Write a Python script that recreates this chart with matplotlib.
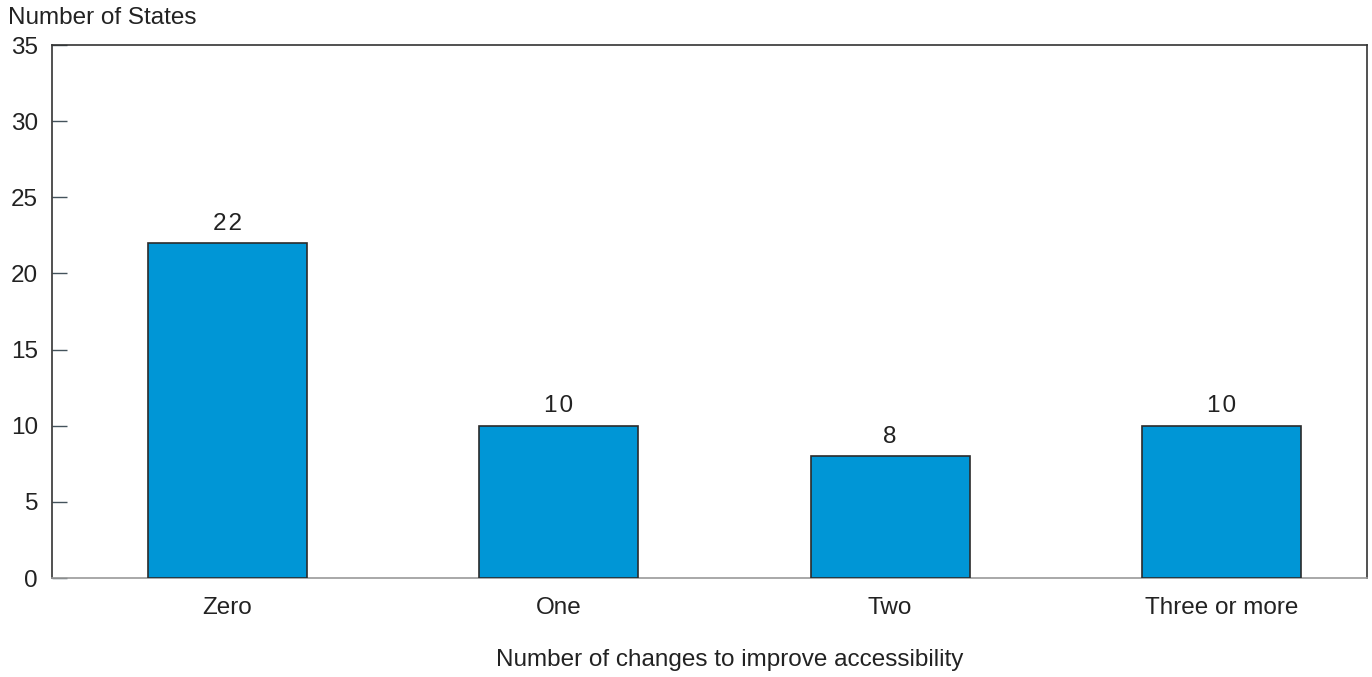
import matplotlib.pyplot as plt

plt.rcParams['font.family'] = ['Liberation Sans', 'DejaVu Sans']

categories = ["Zero", "One", "Two", "Three or more"]
states = [22, 10, 8, 10]
yticks = [0, 5, 10, 15, 20, 25, 30, 35]

fs = 17.5

fig = plt.figure(figsize=(13.72, 6.77), dpi=100)
ax = fig.add_axes([0.0379, 0.1462, 0.9585, 0.7873])

x = range(len(categories))
bars = ax.bar(x, states, width=0.48, color="#0096d6", edgecolor="#2b2b2b", linewidth=1.2, zorder=3)

# value labels above each bar, slightly spread out
for xi, v in zip(x, states):
    ax.text(xi, v + 0.55, "\u200a".join(str(v)), ha="center", va="bottom", fontsize=fs, color="#222222")

ax.set_xlim(-0.53, 3.44)
ax.set_ylim(0, 35)
ax.set_yticks(yticks)
ax.set_xticks(list(x))
ax.set_xticklabels(categories)

ax.tick_params(axis="y", direction="in", length=11, width=1, color="#44535c",
               labelsize=fs, pad=10, labelcolor="#222222")
ax.tick_params(axis="x", length=0, labelsize=fs, pad=14, labelcolor="#222222")

for side in ["left", "top", "right"]:
    ax.spines[side].set_color("#333333")
    ax.spines[side].set_linewidth(1.2)
ax.spines["bottom"].set_color("#999999")
ax.spines["bottom"].set_linewidth(1.2)

fig.text(8 / 1372, 1 - 18 / 677, "Number of States", ha="left", va="center", fontsize=fs, color="#222222")
fig.text(730 / 1372, 1 - 660 / 677, "Number of changes to improve accessibility",
         ha="center", va="center", fontsize=fs, color="#222222")

fig.savefig("out.png", dpi=100)
